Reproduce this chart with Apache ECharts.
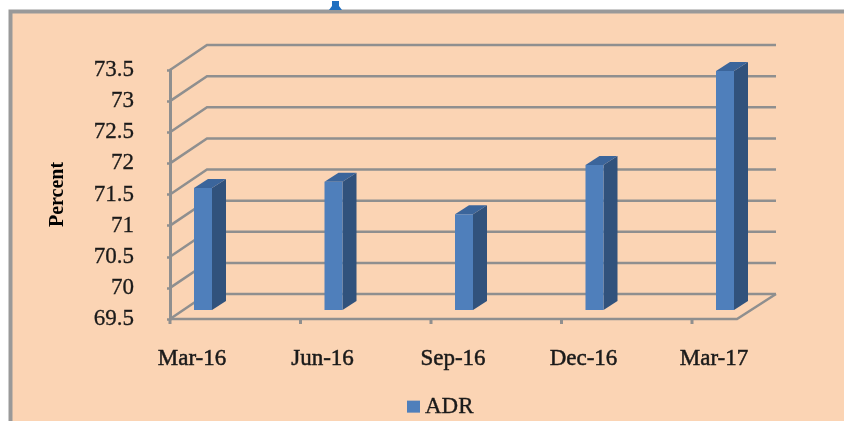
<!DOCTYPE html>
<html><head><meta charset="utf-8">
<style>html,body{margin:0;padding:0;background:#fff}#c{width:844px;height:421px}</style>
<script src="https://cdn.jsdelivr.net/npm/echarts@6/dist/echarts.min.js"></script>
</head><body><div id="c"></div>
<script>
const categories = ['Mar-16','Jun-16','Sep-16','Dec-16','Mar-17'];
const adrValues = [71.46,71.56,71.04,71.83,73.34];
const valueTicks = [69.5,70,70.5,71,71.5,72,72.5,73,73.5];
const seriesName = 'ADR';

const GRAY='#8f8f8f', FRONT='#4f7fbb', SIDE='#31527c', TOP='#3b659b', TEXT='#1a1a1a';
const FONT='"Liberation Serif", serif';
const lineStyle={stroke:GRAY,lineWidth:2.5,fill:null};
const chart=echarts.init(document.getElementById('c'),null,{renderer:'canvas'});

function wallItem(params,api){
  const v=api.value(1);
  const a=api.coord([0,v]), b=api.coord([categories.length-1,v]);
  const x0=a[0]-22, xb0=x0+37, xb1=b[0]+62, y=a[1], yb=y-25;
  const children=[{type:'polyline',shape:{points:[[x0,y],[xb0,yb],[xb1,yb]]},style:lineStyle}];
  if(v===valueTicks[0]){
    const xf=b[0]+23;
    children.push({type:'polyline',shape:{points:[[x0,y],[xf,y],[xb1,yb]]},style:lineStyle});
  }
  return {type:'group',children};
}
function tickItem(params,api){
  const p=api.coord([api.value(0),valueTicks[0]]);
  return {type:'line',shape:{x1:p[0]-22,y1:p[1],x2:p[0]-22,y2:p[1]+5},style:{stroke:GRAY,lineWidth:3}};
}
function barItem(params,api){
  const c=api.coord([api.value(0),api.value(1)]);
  const base=api.coord([api.value(0),valueTicks[0]]);
  const l=c[0]+2, r=l+18, t=c[1]-9, b=base[1]-9, dx=14, dy=-9;
  return {type:'group',children:[
    {type:'polygon',shape:{points:[[r,t],[r+dx,t+dy],[r+dx,b+dy],[r,b]]},style:{fill:SIDE}},
    {type:'polygon',shape:{points:[[l,t],[l+dx,t+dy],[r+dx,t+dy],[r,t]]},style:{fill:TOP}},
    {type:'rect',shape:{x:l,y:t,width:r-l,height:b-t},style:{fill:FRONT}}
  ]};
}
chart.setOption({
  animation:false,
  backgroundColor:'#ffffff',
  graphic:[
    {type:'rect',z:-10,silent:true,shape:{x:10.5,y:11.5,width:860,height:440},
     style:{fill:'#fbd4b4',stroke:'#999999',lineWidth:4}},
    {type:'polygon',z:-9,silent:true,shape:{points:[[332,1],[339,1],[339,6],[342,10],[329,10],[332,6]]},
     style:{fill:'#1f6fc0'}}
  ],
  grid:{left:192,right:130,top:70,bottom:102},
  legend:{show:true,data:[seriesName],left:402,top:390,icon:'rect',itemWidth:13,itemHeight:12,itemGap:6,
    textStyle:{fontFamily:FONT,fontSize:23,color:TEXT,textBorderColor:TEXT,textBorderWidth:0.3}},
  xAxis:{type:'category',data:categories,boundaryGap:false,
    axisLine:{show:false},axisTick:{show:false},splitLine:{show:false},
    axisLabel:{fontFamily:FONT,fontSize:23,color:TEXT,textBorderColor:TEXT,textBorderWidth:0.5,margin:28,interval:0,hideOverlap:false,
      showMinLabel:true,showMaxLabel:true,alignMinLabel:'center',alignMaxLabel:'center'}},
  yAxis:{type:'value',min:valueTicks[0],max:valueTicks[valueTicks.length-1],interval:0.5,offset:22,
    name:'Percent',nameLocation:'middle',nameRotate:90,nameGap:102,
    nameTextStyle:{fontFamily:FONT,fontSize:20,fontWeight:'bold',color:'#000'},
    axisLine:{show:true,lineStyle:{color:GRAY,width:3}},
    axisTick:{show:true,length:3,lineStyle:{color:GRAY,width:2.5}},
    splitLine:{show:false},
    axisLabel:{fontFamily:FONT,fontSize:23,color:TEXT,margin:36,textBorderColor:TEXT,textBorderWidth:0.3,
      padding:[6,0,0,0],formatter:v=>String(v)}},
  series:[
    {type:'custom',silent:true,z:1,coordinateSystem:'cartesian2d',renderItem:wallItem,
     data:valueTicks.map(v=>[0,v]),encode:{x:0,y:1}},
    {type:'custom',silent:true,z:1,coordinateSystem:'cartesian2d',renderItem:tickItem,
     data:categories.map((c,i)=>[i,valueTicks[0]]),encode:{x:0,y:1}},
    {type:'custom',name:seriesName,z:3,coordinateSystem:'cartesian2d',renderItem:barItem,
     itemStyle:{color:FRONT},
     data:adrValues.map((v,i)=>[i,v]),encode:{x:0,y:1}}
  ]
});
</script></body></html>
